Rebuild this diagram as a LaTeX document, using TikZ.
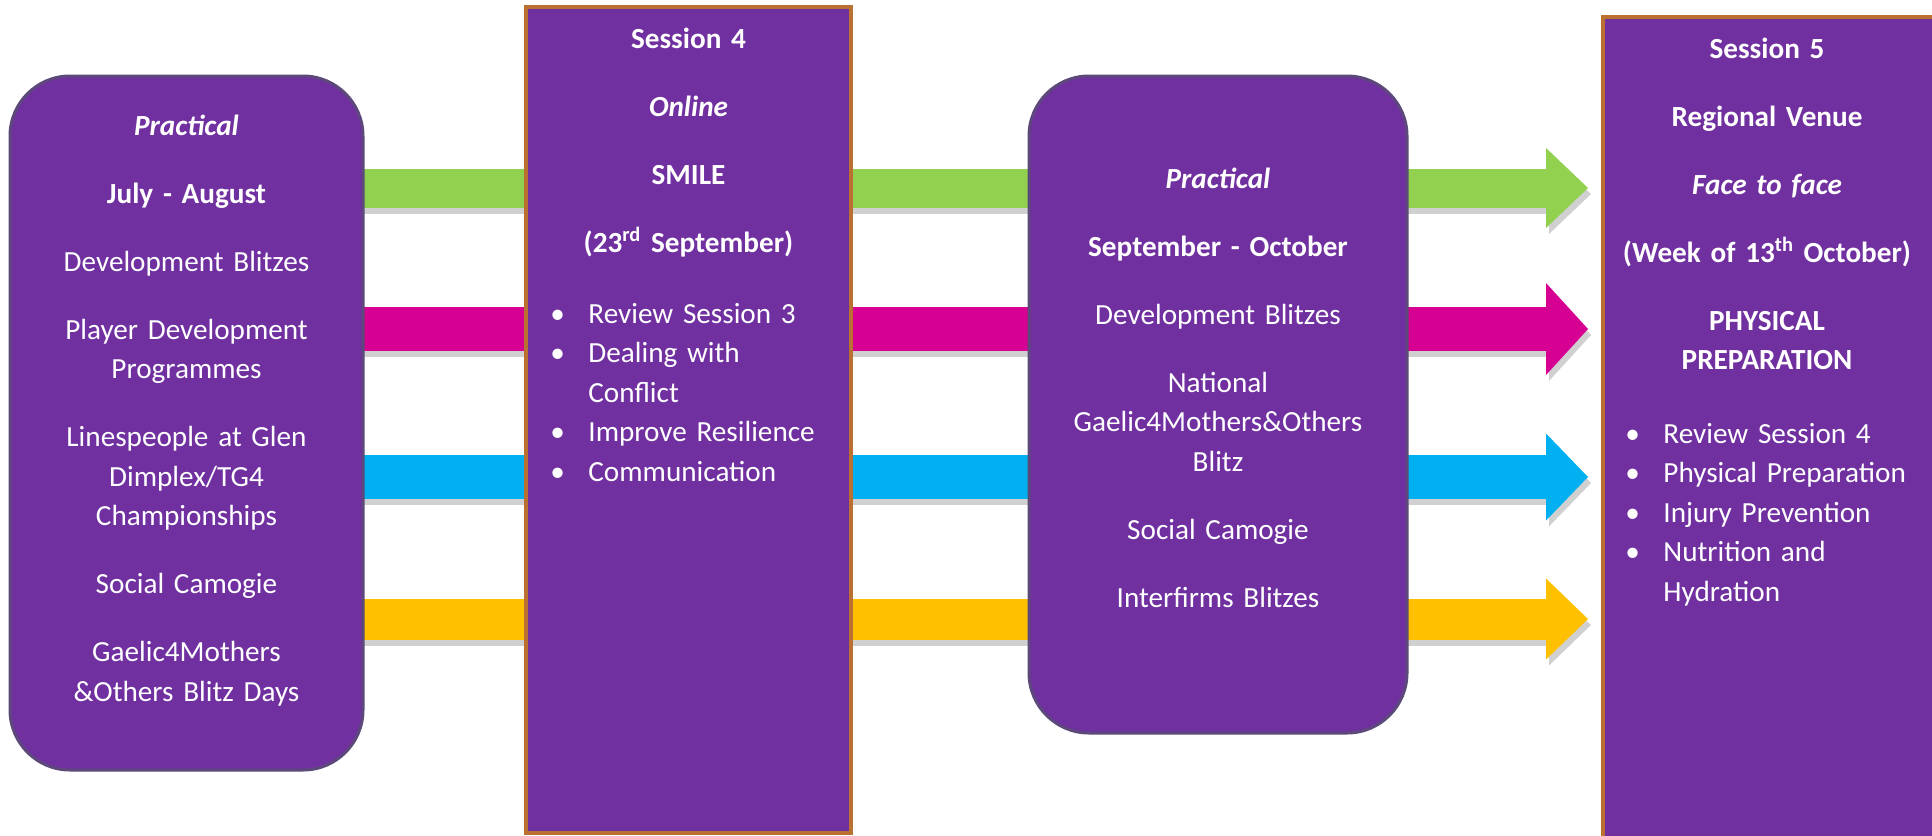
\documentclass[tikz,border=0pt]{standalone}
\usepackage{fontspec}
\setmainfont{Carlito}
\usetikzlibrary{arrows.meta,backgrounds}
\definecolor{boxpurple}{RGB}{112,48,160}
\definecolor{blockline}{RGB}{92,72,122}
\definecolor{sessionline}{RGB}{186,112,48}
\definecolor{bargreen}{RGB}{146,208,80}
\definecolor{barpink}{RGB}{214,0,147}
\definecolor{barblue}{RGB}{0,176,240}
\definecolor{baryellow}{RGB}{255,192,0}
\newcommand\itm[1]{\makebox[19pt][l]{\textbullet}#1}
\newcommand\cont{\hspace*{19pt}}
\newcommand\pgap{\\[14.25pt]}
\tikzset{%
block/.style={draw=blockline, line width=1.5pt, fill=boxpurple, rounded corners=30pt},
session/.style={draw=sessionline, line width=2pt, fill=boxpurple},
txt/.style={text=white, inner sep=0pt, font=\fontsize{14.6}{19.75}\selectfont},
head/.style={txt, anchor=base, align=center, text width=160pt},
items/.style={txt, anchor=base west, align=left, text width=150pt},
bar/.style 2 args={line width=#1, -{Triangle[length=21pt, width=#2, line width=0pt]}, shorten >=6.5pt},
}

\begin{document}
\begin{tikzpicture}[x=0.5pt, y=-0.5pt]

\useasboundingbox (0,0) rectangle (1932,835);

% boxes
\node[block, minimum width=176.5pt, minimum height=347pt] (prac1) at (186.5,423) {};
\node[session, minimum width=162.5pt, minimum height=413pt] (sess4) at (688.5,420) {};
\node[block, minimum width=189pt, minimum height=328.5pt] (prac2) at (1218,404.5) {};
\node[session, minimum width=165.5pt, minimum height=441.5pt] (sess5) at (1768.5,458.5) {};

% texts
\node[head] (prac1txt) at (186.5,135) {\textbf{\textit{Practical}}\pgap
      \textbf{July - August}\pgap
      Development Blitzes\pgap
      Player Development\\ Programmes\pgap
      Linespeople at Glen\\ Dimplex/TG4\\ Championships\pgap
      Social Camogie\pgap
      Gaelic4Mothers\\ \&Others Blitz Days};

\node[head] (sess4txt) at (688.5,48) {\textbf{Session 4}\pgap
      \textbf{\textit{Online}}\pgap
      \textbf{SMILE}\pgap
      \textbf{(23\textsuperscript{rd} September)}};
\node[items] (sess4list) at (550,323) {\itm{Review Session 3}\\
      \itm{Dealing with}\\ \cont Conflict\\
      \itm{Improve Resilience}\\
      \itm{Communication}};

\node[head] (prac2txt) at (1218,188) {\textbf{\textit{Practical}}\pgap
      \textbf{September - October}\pgap
      Development Blitzes\pgap
      National\\ Gaelic4Mothers\&Others\\ Blitz\pgap
      Social Camogie\pgap
      Interfirms Blitzes};

\node[head] (sess5txt) at (1767,58) {\textbf{Session 5}\pgap
      \textbf{Regional Venue}\pgap
      \textbf{\textit{Face to face}}\pgap
      \textbf{(Week of 13\textsuperscript{th} October)}\pgap
      \textbf{PHYSICAL}\\ \textbf{PREPARATION}};
\node[items] (sess5list) at (1625,443) {\itm{Review Session 4}\\
      \itm{Physical Preparation}\\
      \itm{Injury Prevention}\\
      \itm{Nutrition and}\\ \cont Hydration};

% bars behind the boxes
\begin{scope}[on background layer]
\fill[white] (0,0) rectangle (1932,835);
\foreach \yy/\col/\sw/\hw in {188/bargreen/19.5pt/40pt, 329/barpink/22pt/46pt,
                              477/barblue/22pt/43.5pt, 619/baryellow/20.5pt/40.5pt}{
  \draw[bar={\sw}{\hw}, draw=black!60, opacity=.3, transform canvas={shift={(1.5pt,-3pt)}}]
        (prac1.center |- 0,\yy) -- (sess5.west |- 0,\yy);
  \draw[bar={\sw}{\hw}, draw=\col] (prac1.center |- 0,\yy) -- (sess5.west |- 0,\yy);
}
\end{scope}

\end{tikzpicture}
\end{document}
